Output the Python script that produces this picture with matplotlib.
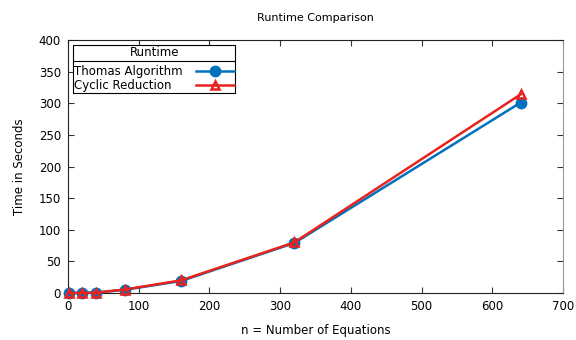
import matplotlib
matplotlib.use("Agg")
import matplotlib.pyplot as plt
from matplotlib.lines import Line2D

n_values = [1, 20, 40, 80, 160, 320, 640]
thomas_times = [0.0, 0.3, 0.6, 5.0, 19.0, 79.0, 301.0]
cyclic_times = [0.0, 0.3, 0.6, 5.5, 20.0, 80.0, 314.0]
x_ticks = [0, 100, 200, 300, 400, 500, 600, 700]
y_ticks = [0, 50, 100, 150, 200, 250, 300, 350, 400]

plt.rcParams['font.family'] = ['DejaVu Sans']
fig = plt.figure(figsize=(5.76, 3.4), dpi=100)
ax = fig.add_axes([68/576, 47/340, 495/576, 253/340])

ax.plot(n_values, thomas_times, color='#0072BD', lw=1.8, marker='o',
        markersize=7.5, markerfacecolor='#0072BD', markeredgecolor='#0072BD',
        label='Thomas Algorithm', clip_on=False, zorder=3)
ax.plot(n_values, cyclic_times, color='#E8231E', lw=1.8, marker='^',
        markersize=6, markerfacecolor='none', markeredgecolor='#E8231E',
        markeredgewidth=1.8, label='Cyclic Reduction', clip_on=False, zorder=4)

ax.set_xlim(0, 700)
ax.set_ylim(0, 400)
ax.set_xticks(x_ticks)
ax.set_yticks(y_ticks)
ax.tick_params(direction='in', top=True, right=True, length=4, labelsize=8.5,
               color='#333333', pad=5)
for s in ['left', 'bottom', 'top']:
    ax.spines[s].set_color('#222222')
ax.spines['right'].set_color('#999999')
for s in ax.spines.values():
    s.set_linewidth(0.8)

ax.set_title('Runtime Comparison', fontsize=8, pad=14)
ax.set_xlabel('n = Number of Equations', fontsize=8.5, labelpad=8)
ax.set_ylabel('Time in Seconds', fontsize=8.5, labelpad=9)

leg = ax.legend(title='Runtime', loc='upper left', bbox_to_anchor=(0.01, 0.98),
                markerfirst=False, fontsize=8.5, title_fontsize=8.5, fancybox=False,
                edgecolor='black', framealpha=1, borderpad=0.1, labelspacing=0.12,
                handlelength=3.2, handletextpad=1.0, borderaxespad=0)
leg.get_frame().set_linewidth(0.8)
leg._legend_box.sep = 4

# left-align labels, push handles to the right edge
for col in leg._legend_handle_box.get_children():
    col.align = 'left'
    for row in col.get_children():
        row.mode = 'expand'
        row.width = 160

fig.canvas.draw()
fb = leg.get_frame().get_window_extent()
tb = leg.get_title().get_window_extent()
y_sep = tb.y0 - 2
inv = fig.transFigure.inverted()
(x0, ys), (x1, _) = inv.transform([(fb.x0, y_sep), (fb.x1, y_sep)])
fig.add_artist(Line2D([x0, x1], [ys, ys], color='black', lw=0.8, zorder=10))

fig.savefig('out.png', dpi=100)
